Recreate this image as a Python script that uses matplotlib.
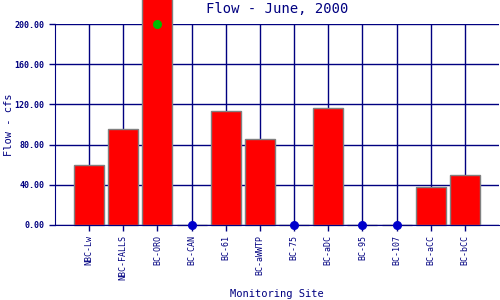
import matplotlib
matplotlib.use('Agg')
import matplotlib.pyplot as plt

sites = ['NBC-Lw', 'NBC-FALLS', 'BC-ORO', 'BC-CAN', 'BC-61', 'BC-aWWTP', 'BC-75',
         'BC-aDC', 'BC-95', 'BC-107', 'BC-aCC', 'BC-bCC']
flow = [60, 96, 250, 0, 113, 86, 0, 116, 0, 0, 38, 50]
zero_sites = [3, 6, 8, 9]
over_sites = [2]
over_value = 200
yticks = [0, 40, 80, 120, 160, 200]

navy = '#000080'
plt.rcParams['font.family'] = 'DejaVu Sans Mono'

fig = plt.figure(figsize=(5, 3), dpi=100)
ax = fig.add_axes([0.11, 0.25, 0.888, 0.67])
x = list(range(len(sites)))

ax.set_axisbelow(True)
ax.grid(True, color=navy, linewidth=1)
bars = ax.bar(x, flow, width=0.88, color='#ff0000', edgecolor='#808080', linewidth=1, zorder=2)
for b in bars:
    b.set_clip_on(False)
ax.scatter([x[i] for i in zero_sites], [0] * len(zero_sites), s=30, color='#0000cc', zorder=4, clip_on=False)
ax.scatter([x[i] for i in over_sites], [over_value] * len(over_sites), s=30, color='#00bb00', zorder=4, clip_on=False)

ax.set_xlim(-1, len(sites))
ax.set_ylim(0, 200)
ax.set_yticks(yticks)
ax.set_yticklabels(['%.2f' % v for v in yticks], fontsize=6, color=navy, fontweight='bold')
ax.set_xticks(x)
ax.set_xticklabels(sites, rotation=90, fontsize=6, color=navy)
ax.tick_params(colors=navy, length=4, width=1)
for s in ['top', 'right']:
    ax.spines[s].set_visible(False)
for s in ['left', 'bottom']:
    ax.spines[s].set_color(navy)
    ax.spines[s].set_zorder(3)

ax.set_title('Flow - June, 2000', fontsize=10, color=navy, pad=8)
ax.set_ylabel('Flow - cfs', fontsize=7.5, color=navy)
ax.yaxis.set_label_coords(-0.093, 0.5)
ax.set_xlabel('Monitoring Site', fontsize=7.5, color=navy, labelpad=6)

fig.savefig('out.png')
